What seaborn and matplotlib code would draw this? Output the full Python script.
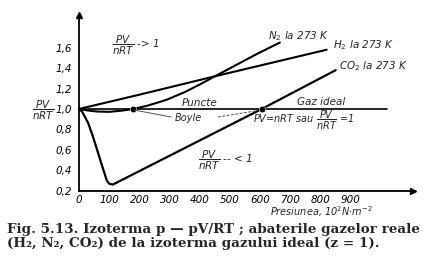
import matplotlib
matplotlib.use("Agg")
import matplotlib.pyplot as plt
import seaborn as sns
import pandas as pd
import numpy as np

# ---- data ----
n2_p = [0, 30, 60, 100, 140, 180, 230, 290, 350, 400, 450, 520, 590, 665]
n2_v = [1.0, 0.985, 0.975, 0.972, 0.983, 1.0, 1.035, 1.09, 1.165, 1.24, 1.32, 1.43, 1.54, 1.65]
h2_p = [0, 200, 450, 820]
h2_v = [1.0, 1.14, 1.32, 1.58]
co2_p = [0, 10, 30, 45, 60, 80, 92, 100, 112, 605, 850]
co2_v = [1.0, 0.975, 0.865, 0.74, 0.6, 0.41, 0.3, 0.268, 0.26, 1.0, 1.38]
ideal_p = [0, 1020]
ideal_v = [1.0, 1.0]
boyle_p = [180, 605]
boyle_v = [1.0, 1.0]
x_ticks = [0, 100, 200, 300, 400, 500, 600, 700, 800, 900]
y_ticks = [0.2, 0.4, 0.6, 0.8, 1.0, 1.2, 1.4, 1.6]
y_tick_labels = ["0,2", "0,4", "0,6", "0,8", "1,0", "1,2", "1,4", "1,6"]

sns.set_style("white")
plt.rcParams["font.family"] = ["DejaVu Sans"]
plt.rcParams["mathtext.fontset"] = "dejavusans"

W, H = 445, 262
fig = plt.figure(figsize=(W / 100, H / 100), dpi=100)
fig.patch.set_facecolor("white")

x0, x1 = 79, 413
y0, y1 = 190.7, 15
ax = fig.add_axes([x0 / W, 1 - y0 / H, (x1 - x0) / W, (y0 - y1) / H])
ax.set_facecolor("none")
ax.set_xlim(0, 1106)
ax.set_ylim(0.2, 1.92)

def frame(p, v, name):
    return pd.DataFrame({"p": p, "v": v, "g": name})

sns.lineplot(data=frame(n2_p, n2_v, "N2"), x="p", y="v", sort=False, estimator=None,
             color="black", lw=1.5, ax=ax)
sns.lineplot(data=frame(h2_p, h2_v, "H2"), x="p", y="v", sort=False, estimator=None,
             color="black", lw=1.5, ax=ax)
sns.lineplot(data=frame(co2_p, co2_v, "CO2"), x="p", y="v", sort=False, estimator=None,
             color="black", lw=1.6, ax=ax)
sns.lineplot(data=frame(ideal_p, ideal_v, "ideal"), x="p", y="v", sort=False, estimator=None,
             color="black", lw=1.2, ax=ax)
sns.scatterplot(x=boyle_p, y=boyle_v, color="black", s=22, marker="o", ax=ax, zorder=5)

# axes styling
for s in ["top", "right"]:
    ax.spines[s].set_visible(False)
for s in ["left", "bottom"]:
    ax.spines[s].set_color("black")
    ax.spines[s].set_linewidth(1.3)
ax.plot([1], [0], marker=">", color="black", markersize=5, transform=ax.transAxes, clip_on=False)
ax.plot([0], [1], marker="^", color="black", markersize=5, transform=ax.transAxes, clip_on=False)

ax.set_xticks(x_ticks)
ax.set_xticklabels([str(t) for t in x_ticks], fontstyle="italic", fontsize=7.5)
ax.set_yticks(y_ticks)
ax.set_yticklabels(y_tick_labels, fontstyle="italic", fontsize=7.5)
ax.tick_params(axis="x", direction="in", length=3, width=1, pad=3, colors="black")
ax.tick_params(axis="y", direction="out", length=3, width=1, pad=2, colors="black")
ax.set_xlabel("")
ax.set_ylabel("")

def ftext(x, y, s, size=7, ha="left", **kw):
    fig.text(x / W, 1 - y / H, s, fontsize=size, ha=ha, va="center", fontstyle="italic", **kw)

ftext(43, 110, r"$\dfrac{PV}{nRT}$", size=7.5, ha="center")
ftext(112, 45, r"$\dfrac{PV}{nRT}$ -> 1", size=7.5)
ftext(268, 36, r"N$_2$ la 273 K", size=7.5)
ftext(333, 45, r"H$_2$ la 273 K", size=7.5)
ftext(339, 66, r"CO$_2$ la 273 K", size=7.5)
ftext(182, 103, "Puncte", size=7.5)
ftext(297, 102, "Gaz ideal", size=7.5)
ftext(175, 118, "Boyle", size=7)
ftext(253, 120, r"PV=nRT sau $\dfrac{PV}{nRT}$ =1", size=7)
ftext(198, 160, r"$\dfrac{PV}{nRT}$ -- < 1", size=7.5)
ftext(270, 212, r"Presiunea, 10$^2$N$\cdot$m$^{-2}$", size=7)

# Boyle leader lines
fig.add_artist(plt.Line2D([134 / W, 171 / W], [1 - 110 / H, 1 - 117 / H], color="#555555", lw=0.7))
fig.add_artist(plt.Line2D([218 / W, 258 / W], [1 - 117 / H, 1 - 110.5 / H], color="#555555", lw=0.7,
                          linestyle=(0, (3, 1.5))))

# caption
fig.text(7 / W, 1 - 229 / H, "Fig. 5.13. Izoterma p — pV/RT ; abaterile gazelor reale",
         fontsize=9.7, fontweight="bold", family="DejaVu Serif", va="center", ha="left")
fig.text(7 / W, 1 - 243 / H, "(H₂, N₂, CO₂) de la izoterma gazului ideal (z = 1).",
         fontsize=9.7, fontweight="bold", family="DejaVu Serif", va="center", ha="left")

fig.savefig("out.png", dpi=100, facecolor="white")
